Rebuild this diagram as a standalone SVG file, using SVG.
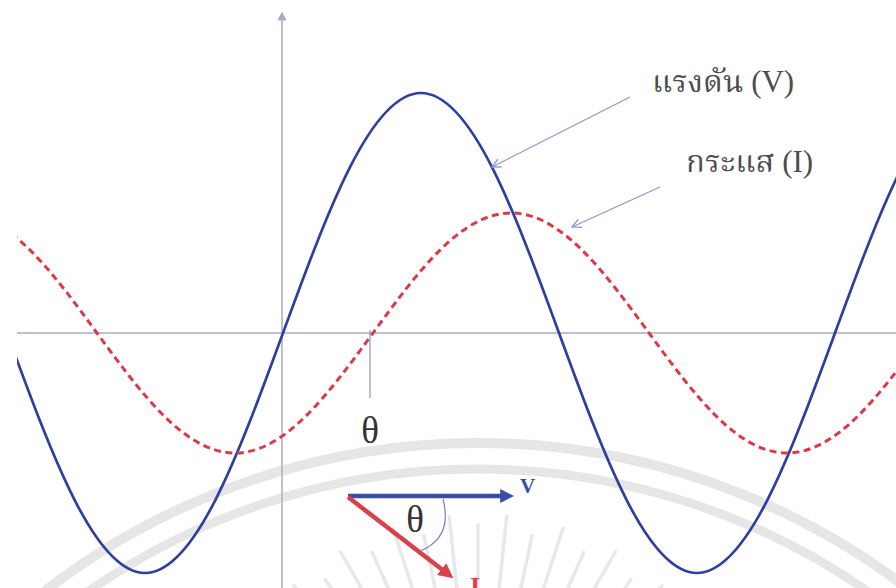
<svg xmlns="http://www.w3.org/2000/svg" width="896" height="588" viewBox="0 0 896 588">
  <style>
    .wm { fill: none; stroke: #e6e6e6; }
    .ray { stroke: #e8e8e8; stroke-width: 3.5; stroke-linecap: round; }
    .axis { stroke: #a9abc6; stroke-width: 1.5; fill: none; }
    .volt { fill: none; stroke: #2f3f9c; stroke-width: 2.7; }
    .curr { fill: none; stroke: #dc3a47; stroke-width: 3; stroke-dasharray: 7 4.5; }
    .lead { stroke: #8c95d2; stroke-width: 1.2; fill: none; }
    .lbl { font-family: "Liberation Serif", "Noto Serif Thai", "Noto Sans Thai", serif; fill: #4d4d4d; font-size: 31px; }
    .th { font-family: "Liberation Serif", serif; fill: #333; font-size: 37px; }
  </style>
  <defs>
    <clipPath id="plot"><rect x="17" y="0" width="879" height="588"/></clipPath>
    <marker id="open" viewBox="0 0 10 10" refX="9" refY="5" markerWidth="11" markerHeight="11" markerUnits="userSpaceOnUse" orient="auto">
      <path d="M1,1 L9,5 L1,9" fill="none" stroke="#8c95d2" stroke-width="1.2"/>
    </marker>
    <marker id="axhead" viewBox="0 0 10 10" refX="5" refY="5" markerWidth="9" markerHeight="9" markerUnits="userSpaceOnUse" orient="auto">
      <path d="M0,0 L10,5 L0,10 Z" fill="#a9abc6"/>
    </marker>
    <marker id="bhead" viewBox="0 0 10 10" refX="2" refY="5" markerWidth="14" markerHeight="14" markerUnits="userSpaceOnUse" orient="auto">
      <path d="M0,0 L10,5 L0,10 Z" fill="#3a4da6"/>
    </marker>
    <marker id="rhead" viewBox="0 0 10 10" refX="2" refY="5" markerWidth="15" markerHeight="15" markerUnits="userSpaceOnUse" orient="auto">
      <path d="M0,0 L10,5 L0,10 Z" fill="#d9404b"/>
    </marker>
  </defs>
  <rect width="896" height="588" fill="#ffffff"/>

  <g id="watermark">
    <circle class="wm" cx="478" cy="1150" r="707" stroke-width="10"/>
    <circle class="wm" cx="478" cy="1150" r="681" stroke-width="9"/>
    <g transform="translate(478,790)">
      <line class="ray" x1="0" y1="-275" x2="0" y2="-180" transform="rotate(-66)"/>
      <line class="ray" x1="0" y1="-260" x2="0" y2="-180" transform="rotate(-60)"/>
      <line class="ray" x1="0" y1="-275" x2="0" y2="-180" transform="rotate(-54)"/>
      <line class="ray" x1="0" y1="-260" x2="0" y2="-180" transform="rotate(-48)"/>
      <line class="ray" x1="0" y1="-275" x2="0" y2="-180" transform="rotate(-42)"/>
      <line class="ray" x1="0" y1="-260" x2="0" y2="-180" transform="rotate(-36)"/>
      <line class="ray" x1="0" y1="-275" x2="0" y2="-180" transform="rotate(-30)"/>
      <line class="ray" x1="0" y1="-260" x2="0" y2="-180" transform="rotate(-24)"/>
      <line class="ray" x1="0" y1="-275" x2="0" y2="-180" transform="rotate(-18)"/>
      <line class="ray" x1="0" y1="-260" x2="0" y2="-180" transform="rotate(-12)"/>
      <line class="ray" x1="0" y1="-275" x2="0" y2="-180" transform="rotate(-6)"/>
      <line class="ray" x1="0" y1="-265" x2="0" y2="-180"/>
      <line class="ray" x1="0" y1="-275" x2="0" y2="-180" transform="rotate(6)"/>
      <line class="ray" x1="0" y1="-260" x2="0" y2="-180" transform="rotate(12)"/>
      <line class="ray" x1="0" y1="-275" x2="0" y2="-180" transform="rotate(18)"/>
      <line class="ray" x1="0" y1="-260" x2="0" y2="-180" transform="rotate(24)"/>
      <line class="ray" x1="0" y1="-275" x2="0" y2="-180" transform="rotate(30)"/>
      <line class="ray" x1="0" y1="-260" x2="0" y2="-180" transform="rotate(36)"/>
      <line class="ray" x1="0" y1="-275" x2="0" y2="-180" transform="rotate(42)"/>
      <line class="ray" x1="0" y1="-260" x2="0" y2="-180" transform="rotate(48)"/>
      <line class="ray" x1="0" y1="-275" x2="0" y2="-180" transform="rotate(54)"/>
      <line class="ray" x1="0" y1="-260" x2="0" y2="-180" transform="rotate(60)"/>
      <line class="ray" x1="0" y1="-275" x2="0" y2="-180" transform="rotate(66)"/>
    </g>
  </g>

  <g id="axes">
    <line class="axis" x1="17" y1="333" x2="896" y2="333"/>
    <line class="axis" x1="282" y1="588" x2="282" y2="16" marker-end="url(#axhead)"/>
  </g>

  <g id="voltage" clip-path="url(#plot)">
    <path class="volt" d="M7,333 C52,455.9 95.06,573 145,573 C194.94,573 238,455.9 283,333 C328,210.1 371.06,93 421,93 C470.94,93 514,210.1 559,333 C604,455.9 647.06,573 697,573 C746.94,573 790,455.9 835,333 C880,210.1 923.06,93 973,93"/>
  </g>

  <g id="current" clip-path="url(#plot)">
    <path class="curr" d="M-41,213 C8.94,213 52,271.5 97,333 C142,394.5 185.06,453 235,453 C284.94,453 328,394.5 373,333 C418,271.5 461.06,213 511,213 C560.94,213 604,271.5 649,333 C694,394.5 737.06,453 787,453 C836.94,453 880,394.5 925,333"/>
  </g>

  <g id="connectors">
    <line class="lead" x1="630" y1="97" x2="492" y2="167" marker-end="url(#open)"/>
    <line class="lead" x1="660" y1="187" x2="572" y2="227" marker-end="url(#open)"/>
    <line class="lead" x1="370" y1="330" x2="370" y2="398"/>
  </g>

  <g id="label-voltage">
    <text class="lbl" x="652" y="92">แรงดัน (V)</text>
  </g>
  <g id="label-current">
    <text class="lbl" x="686" y="172">กระแส (I)</text>
  </g>
  <g id="label-theta">
    <text class="th" x="370" y="443" text-anchor="middle">θ</text>
  </g>

  <g id="phasor">
    <line x1="348" y1="496" x2="503" y2="496" stroke="#3a4da6" stroke-width="4.5" marker-end="url(#bhead)"/>
    <line x1="348" y1="497" x2="444" y2="571" stroke="#d9404b" stroke-width="4.5" marker-end="url(#rhead)"/>
    <path d="M443,499 Q453,538 420,551" fill="none" stroke="#6f7fc8" stroke-width="1.2"/>
    <text class="th" x="415" y="532" text-anchor="middle">θ</text>
    <text x="520" y="493" font-family="Liberation Serif, serif" font-weight="bold" font-size="21" fill="#3a4da6">V</text>
    <text x="470" y="595" font-family="Liberation Serif, serif" font-weight="bold" font-size="26" fill="#d9404b">I</text>
  </g>
</svg>
